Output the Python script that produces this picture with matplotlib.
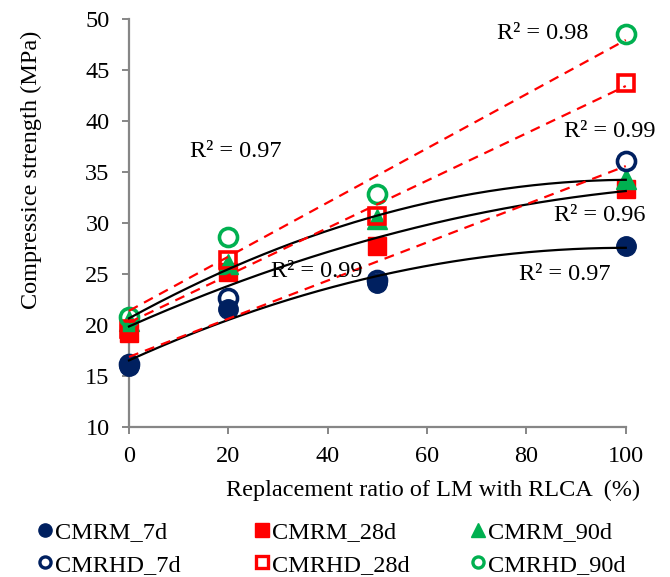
import numpy as np
import matplotlib
matplotlib.use("Agg")
import matplotlib.pyplot as plt
from matplotlib.lines import Line2D

plt.rcParams['font.family'] = ['Liberation Serif', 'DejaVu Serif']

# Replacement ratio (%)
ratio = [0, 20, 50, 100]

# Compressive strength (MPa)
cmrm_7d = [16.0, 21.6, 24.1, 27.7]
cmrm_28d = [19.2, 25.2, 27.7, 33.3]
cmrm_90d = [20.4, 26.0, 30.4, 34.3]
cmrhd_7d = [16.2, 22.6, 24.4, 36.1]
cmrhd_28d = [19.6, 26.4, 30.7, 43.7]
cmrhd_90d = [20.8, 28.6, 32.8, 48.5]

r2_labels = ["R² = 0.98", "R² = 0.99", "R² = 0.96", "R² = 0.97", "R² = 0.97", "R² = 0.99"]
r2_pos = [(74.0, 48.6), (87.5, 39.0), (85.5, 30.7), (78.5, 25.0), (12.2, 37.0), (28.5, 25.2)]

navy = "#002060"
red = "#FF0000"
green = "#00B050"
spine_col = "#868686"
FS = 17.5

fig = plt.figure(figsize=(6.70, 5.77), dpi=100)
ax = fig.add_axes([0.1925, 0.26, 0.7415, 0.707])

x = np.array(ratio, dtype=float)

series = [
    ("CMRM_7d", cmrm_7d, "o", navy, True, 14),
    ("CMRM_28d", cmrm_28d, "s", red, True, 13),
    ("CMRM_90d", cmrm_90d, "^", green, True, 14),
    ("CMRHD_7d", cmrhd_7d, "o", navy, False, 13),
    ("CMRHD_28d", cmrhd_28d, "s", red, False, 12),
    ("CMRHD_90d", cmrhd_90d, "o", green, False, 13),
]

handles = {}
for name, vals, mk, col, filled, ms in series:
    if filled:
        ax.plot(x, vals, linestyle="none", marker=mk, markersize=ms,
                markerfacecolor=col, markeredgecolor=col, clip_on=False, zorder=3)
        h = Line2D([], [], linestyle="none", marker=mk, markersize=9.5,
                   markerfacecolor=col, markeredgecolor=col)
    else:
        ax.plot(x, vals, linestyle="none", marker=mk, markersize=ms,
                markerfacecolor="none", markeredgecolor=col, markeredgewidth=2.6,
                clip_on=False, zorder=3)
        h = Line2D([], [], linestyle="none", marker=mk, markersize=8,
                   markerfacecolor="white", markeredgecolor=col, markeredgewidth=2.4)
    handles[name] = h

# Trendlines: 2nd-order polynomial for CMRM, linear for CMRHD
xs = np.linspace(0, 100, 200)
for vals in (cmrm_7d, cmrm_28d, cmrm_90d):
    c = np.polyfit(x, vals, 2)
    ax.plot(xs, np.polyval(c, xs), color="black", lw=1.6, zorder=4, clip_on=False)
for vals in (cmrhd_7d, cmrhd_28d, cmrhd_90d):
    c = np.polyfit(x, vals, 1)
    ax.plot(xs, np.polyval(c, xs), color=red, lw=1.6, linestyle=(0, (4.5, 3.2)),
            zorder=4, clip_on=False)

for lab, (tx, ty) in zip(r2_labels, r2_pos):
    ax.text(tx, ty, lab, fontsize=FS, ha="left", va="center", zorder=5)

ax.set_xlim(0, 100)
ax.set_ylim(10, 50)
ax.set_xticks([0, 20, 40, 60, 80, 100])
ax.set_yticks(np.arange(10, 51, 5))
for s in ("top", "right"):
    ax.spines[s].set_visible(False)
for s in ("left", "bottom"):
    ax.spines[s].set_color(spine_col)
    ax.spines[s].set_linewidth(1.6)
ax.tick_params(axis="both", colors=spine_col, labelcolor="black", labelsize=FS,
               length=5, width=1.4, direction="out", pad=9)

ax.set_xlabel("Replacement ratio of LM with RLCA  (%)", fontsize=FS, labelpad=9, x=0.612)
ax.set_ylabel("Compressice strength (MPa)", fontsize=FS, labelpad=31, y=0.63)

# Legend: three columns, each holding the 7d/28d/90d pair
columns = [("CMRM_7d", "CMRHD_7d"), ("CMRM_28d", "CMRHD_28d"), ("CMRM_90d", "CMRHD_90d")]
col_x = [45, 262, 478]
W, H = 670.0, 577.0
hl = 0.7
for names, mx in zip(columns, col_x):
    x0 = (mx - hl * FS * 100 / 72 / 2) / W
    fig.legend([handles[n] for n in names], list(names), loc="upper left",
               bbox_to_anchor=(x0, 1 - 521 / H), frameon=False, fontsize=FS,
               handlelength=hl, handletextpad=0.05, labelspacing=0.44,
               borderpad=0, borderaxespad=0)

fig.savefig("out.png", dpi=100)
